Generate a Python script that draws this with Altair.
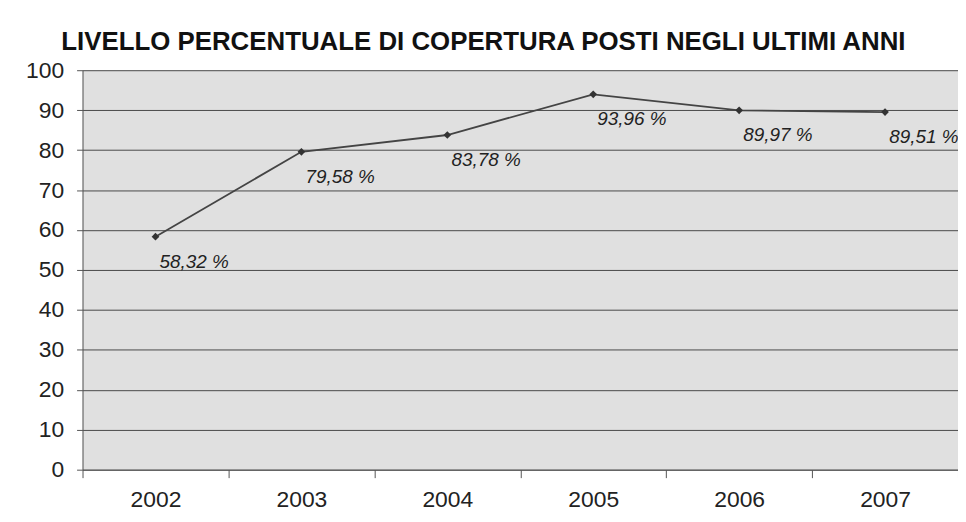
import altair as alt
import pandas as pd

years = ["2002", "2003", "2004", "2005", "2006", "2007"]
values = [58.32, 79.58, 83.78, 93.96, 89.97, 89.51]
labels = ["58,32 %", "79,58 %", "83,78 %", "93,96 %", "89,97 %", "89,51 %"]

df = pd.DataFrame({"anno": years, "valore": values, "etichetta": labels})

FONT = "Liberation Sans"

x = alt.X("anno:N", sort=years, title=None,
          scale=alt.Scale(paddingInner=0, paddingOuter=0),
          axis=alt.Axis(labelAngle=0, labelFontSize=23, labelFont=FONT, labelColor="#222",
                        tickBand="extent", tickSize=8, tickColor="#555", domainColor="#555",
                        labelPadding=11, grid=False))
y = alt.Y("valore:Q", title=None,
          scale=alt.Scale(domain=[0, 100], nice=False),
          axis=alt.Axis(values=list(range(0, 101, 10)), labelFontSize=23, labelFont=FONT,
                        labelColor="#222", tickSize=6, tickColor="#555", domainColor="#555",
                        labelPadding=13, gridColor="#4a4a4a", gridWidth=1, gridOpacity=1))

base = alt.Chart(df)

line = base.mark_line(color="#444", strokeWidth=1.8).encode(x=x, y=y)
pts = base.mark_point(shape="diamond", filled=True, color="#333", size=60, opacity=1).encode(x=x, y=y)
txt = base.mark_text(font=FONT, fontSize=19, fontStyle="italic", color="#222",
                     align="center", baseline="middle", dx=39, dy=25).encode(
    x=x, y=y, text="etichetta:N")

chart = (line + pts + txt).properties(
    width=881, height=402,
    view=alt.ViewBackground(fill="#e0e0e0", stroke=None),
    title=alt.TitleParams("LIVELLO PERCENTUALE DI COPERTURA POSTI NEGLI ULTIMI ANNI",
                          font=FONT, fontSize=26, fontWeight="bold", color="#111",
                          anchor="start", dx=36, offset=4),
    autosize=alt.AutoSizeParams(type="none"),
    padding={"left": 75, "top": 61, "right": 0, "bottom": 45},
).configure(background="white")

chart.save("out.html", embed_options={"renderer": "svg", "actions": False})
